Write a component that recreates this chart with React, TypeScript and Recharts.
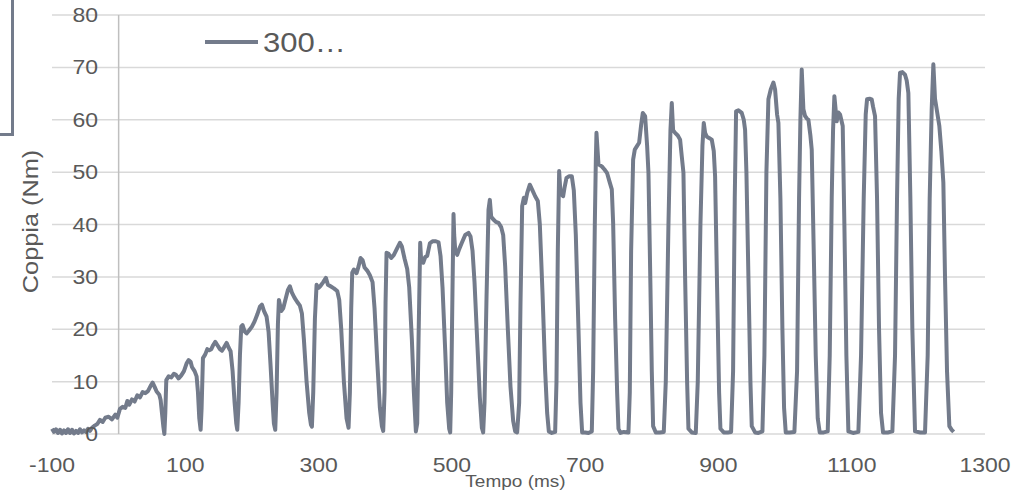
import {
  LineChart, Line, XAxis, YAxis, CartesianGrid, ReferenceLine, Legend,
} from 'recharts'

// tempo (ms) e coppia (Nm), one row per torque pulse
const tempoMs = [
  -100, -97, -94, -91, -88, -85, -82, -79, -76, -73, -70, -67, -64, -61, -58, -55, -52, -49, -46, -43, -40,
  -36, -32, -28, -24, -20, -15, -10, -5, -2, 2, 6, 10, 13, 16, 20, 24, 28, 32, 36, 40, 44, 48, 51, 54, 57, 61, 63, 65, 67, 68.6,
  70, 71.5, 75, 79, 83, 86, 90, 94, 98, 102, 105, 108, 110, 114, 117, 119, 121, 123,
  124.5, 126.5, 130, 133, 136, 139, 142, 145, 148, 152, 155, 158, 162, 165, 168, 171, 174, 176.5, 178,
  180, 182, 184, 186, 189, 192, 196, 200, 204, 208, 212, 215, 218, 222, 225, 228, 231, 233, 235,
  237, 239, 240.5, 244, 247, 251, 254, 257, 260, 264, 268, 272, 275, 278, 282, 286, 288.5, 290,
  292, 294.5, 297, 300, 303, 307, 311, 314, 318, 323, 328, 331, 334, 338, 342, 345,
  347, 349, 350.5, 353, 357, 360, 363, 366, 369, 373, 377, 381, 384, 388, 392, 395, 397,
  399, 400.5, 402, 405, 409, 413, 418, 422, 425, 429, 433, 436, 440, 443, 446,
  448, 450, 452.5, 454, 457, 460, 463, 467, 471, 476, 480, 483, 486, 490, 493, 496, 497.5,
  499, 501, 502.5, 503.5, 505, 508, 511, 515, 520, 525, 528, 531, 534, 538, 542, 545, 547,
  549, 552, 555, 557, 559, 562, 566, 570, 574, 577, 580, 584, 588, 592, 595, 598,
  601, 603, 605.5, 608, 610, 613, 617, 621, 625, 629, 632, 636, 640, 643, 645.5, 650, 655,
  657, 659, 661, 663, 667, 669, 672, 676, 680, 683, 686, 690, 693, 695.5, 700, 705, 710,
  712, 714.5, 716, 717, 720, 725, 729, 733, 737, 740, 742, 745, 748, 750, 753, 758, 765,
  767, 769, 772, 774.5, 778, 781, 784, 786.5, 790, 793, 795, 798, 800, 802, 806, 812, 818,
  821, 825, 828, 830, 832, 835, 839, 842.5, 845, 847.5, 850, 853, 855, 860, 866,
  869, 873, 876, 878, 880, 882.5, 886, 890, 893, 895, 898, 901, 903, 908, 914, 919,
  922, 924.5, 926.5, 930, 935, 938, 940, 942, 945, 948, 950, 955, 960, 966,
  969, 972, 975, 978.5, 982.5, 985, 988, 990, 993, 996, 998.5, 1001, 1007, 1014,
  1018, 1021, 1023, 1025, 1027.5, 1030, 1033, 1035, 1038, 1040, 1043, 1046, 1049, 1052, 1058, 1064,
  1067, 1070, 1072, 1074, 1077.5, 1080, 1082.5, 1086.5, 1089, 1092, 1095, 1102, 1110,
  1114, 1118, 1121, 1123, 1127, 1130, 1132, 1135, 1138, 1141, 1144, 1147, 1154, 1161,
  1165, 1168, 1170.5, 1172.5, 1176, 1180, 1182.5, 1185, 1188, 1191, 1195, 1203, 1210,
  1214, 1217, 1220, 1222.5, 1225, 1227.5, 1231.5, 1234.5, 1237.5, 1240, 1243, 1246.5, 1250, 1253,
]

const coppiaNm = [
  1.0, 0.4, 0.9, 0.2, 0.8, 0.1, 0.7, 0.2, 0.9, 0.2, 0.8, 0.1, 0.6, 0.2, 0.9, 0.3, 0.7, 0.4, 1.0, 0.6, 1.2,
  1.6, 1.9, 2.7, 2.3, 3.1, 3.3, 2.8, 3.7, 3.1, 4.8, 5.2, 5.0, 6.3, 5.6, 6.6, 6.2, 7.4, 7.0, 8.0, 7.8, 8.2, 9.2, 9.8, 9.0, 8.1, 7.5, 6.5, 4.0, 1.5, 0,
  4, 10.3, 11, 10.8, 11.5, 11.3, 10.6, 11.2, 12, 13.5, 14.1, 13.8, 12.8, 12, 11, 8, 3, 0.8,
  5, 14.5, 15.2, 16.2, 16, 16.2, 17, 17.6, 17, 16.2, 15.9, 16.5, 17.4, 16.5, 15.8, 12, 6, 2, 0.8,
  6, 15, 20.5, 20.8, 19.6, 19.2, 19.8, 20.5, 21.5, 22.8, 24.3, 24.7, 23.5, 22.4, 19.5, 13, 6, 2, 0.8,
  8, 21, 25.6, 23.5, 24, 26, 27.5, 28.2, 27, 26, 25.2, 24.5, 23, 18, 10, 4, 1.8, 1.4,
  8, 22, 28.5, 27.9, 28.3, 29, 29.8, 28.5, 28.2, 27.8, 27.3, 25.6, 20, 10, 3, 1.2,
  8, 24, 30.8, 31.4, 30.7, 32, 33.6, 33.2, 31.8, 31.2, 30.3, 29, 24, 14, 5, 1.5, 0.6,
  8, 25, 34.6, 34.4, 33.6, 34.2, 35.5, 36.5, 35.8, 33.5, 31.5, 28, 18, 8, 0.5,
  2, 18, 36.5, 33, 32.7, 33.8, 34, 36.4, 36.8, 36.8, 36.6, 34, 28, 16, 6, 1, 0.3,
  8, 28, 42, 38, 35.2, 34.2, 35.3, 36.5, 38, 38.4, 37.7, 35, 29, 18, 7, 1.2, 0.3,
  6, 26, 42.8, 44.7, 41.5, 41, 40.5, 40.3, 39.5, 38, 32, 20, 9, 2.5, 0.5, 0.3,
  6, 25, 43.5, 45.1, 44.1, 46, 47.6, 46.5, 45.4, 44.5, 40, 27, 12, 4, 0.5, 0.2, 0.4,
  10, 35, 50.2, 46, 45.4, 47, 48.9, 49.2, 49.2, 46.5, 38, 20, 6, 0.3, 0.3, 0.2, 0.5,
  12, 40, 52, 57.5, 51.5, 51.1, 50.5, 49.8, 48, 46.7, 40.3, 22, 8, 1, 0.2, 0.4, 0.3,
  8, 35, 52.4, 54.3, 55, 55.6, 59, 61.3, 60.7, 55, 49.9, 28, 12, 1.5, 0.3, 0.3, 0.4,
  10, 40, 58, 63.2, 58, 57.5, 57, 56.2, 53, 49.9, 30, 10, 1, 0.3, 0.2,
  10, 40, 55, 59.4, 57.5, 56.8, 56.5, 56.2, 54, 49.2, 28, 8, 1, 0.3, 0.3, 0.4,
  12, 45, 61.6, 61.8, 61.3, 60, 58.1, 50, 30, 10, 1.5, 0.3, 0.2, 0.5,
  15, 50, 63.9, 65.8, 67.1, 65.8, 61, 59.4, 45, 20, 5, 0.3, 0.3, 0.4,
  12, 45, 60, 69.6, 62, 60.7, 60.2, 60, 57, 54.3, 35, 15, 3, 0.3, 0.3, 0.5,
  15, 45, 58, 64.5, 59.7, 61.4, 61, 58.8, 40, 15, 0.5, 0.2, 0.4,
  15, 45, 61, 63.9, 64, 63.9, 62.5, 60.7, 45, 20, 4, 0.3, 0.3, 0.5,
  15, 45, 64, 69, 69.1, 68.6, 67.5, 65.1, 45, 20, 0.5, 0.3, 0.3,
  15, 45, 62, 70.6, 64, 62, 58.8, 54, 48, 30, 12, 1.5, 0.8, 0.4,
]

const xTicks = [-100, 100, 300, 500, 700, 900, 1100, 1300]
const yTicks = [0, 10, 20, 30, 40, 50, 60, 70, 80]
const seriesName = '300…'

const data = tempoMs.map((t, i) => ({ t, coppia: coppiaNm[i] }))

const LINE = '#737b8b'
const TEXT = '#595959'
const FONT = '"Liberation Sans", Arial, sans-serif'

const XTick = ({ x, y, payload }: any) => (
  <text transform={`translate(${x},${y + 38}) scale(1.15,1)`} textAnchor="middle"
    fill={TEXT} fontSize={20} fontFamily={FONT}>{payload.value}</text>
)

// y labels sit inside the plot, right-aligned a bit left of the x=0 line
const YTick = ({ x, y, payload }: any) => (
  <text transform={`translate(${x + 46},${y + 7}) scale(1.15,1)`} textAnchor="end"
    fill={TEXT} fontSize={20} fontFamily={FONT}>{payload.value}</text>
)

const XTitle = ({ viewBox }: any) => (
  <text transform={`translate(${viewBox.x + viewBox.width / 2 - 3},${viewBox.y + 53}) scale(1.12,1)`}
    textAnchor="middle" fill={TEXT} fontSize={17} fontFamily={FONT}>Tempo (ms)</text>
)

const YTitle = ({ viewBox }: any) => (
  <text transform={`translate(${viewBox.x + 32},${viewBox.y + viewBox.height / 2 - 3}) rotate(-90) scale(1.15,1)`}
    textAnchor="middle" fill={TEXT} fontSize={22} fontFamily={FONT}>Coppia (Nm)</text>
)

const LegendContent = () => (
  <svg width={160} height={40}>
    <line x1={5} x2={58} y1={20} y2={20} stroke={LINE} strokeWidth={4} />
    <text transform="translate(63,30) scale(1.15,1)" fill={TEXT} fontSize={27} fontFamily={FONT}>
      {seriesName}
    </text>
  </svg>
)

export default function App() {
  return (
    <div style={{ position: 'absolute', left: 0, top: 0, width: 1024, height: 494, background: '#fff', overflow: 'hidden' }}>
      {/* frame of a neighbouring box, cut at the edge */}
      <div style={{
        position: 'absolute', left: -20, top: -20, width: 34, height: 156,
        boxSizing: 'border-box', border: `3.5px solid ${LINE}`,
      }} />
      <LineChart width={1024} height={494} data={data}
        margin={{ top: 15, right: 39, left: 6, bottom: 30 }}>
        <CartesianGrid vertical={false} stroke="#d9d9d9" strokeWidth={1.5} />
        <XAxis type="number" dataKey="t" domain={[-100, 1300]} ticks={xTicks} interval={0}
          axisLine={false} tickLine={false} tickSize={0} tickMargin={0} height={30}
          tick={<XTick />} label={<XTitle />} />
        <YAxis type="number" domain={[0, 80]} ticks={yTicks} interval={0} width={46}
          axisLine={false} tickLine={false} tickSize={0} tickMargin={0}
          tick={<YTick />} label={<YTitle />} />
        <ReferenceLine x={0} stroke="#bfbfbf" strokeWidth={1.5} />
        <Legend layout="vertical" align="center" verticalAlign="middle"
          wrapperStyle={{ left: 200, top: 22, width: 160, height: 40 }}
          content={<LegendContent />} />
        <Line type="linear" dataKey="coppia" name={seriesName} stroke={LINE} strokeWidth={4}
          strokeLinejoin="round" dot={false} activeDot={false} isAnimationActive={false} />
      </LineChart>
    </div>
  )
}
